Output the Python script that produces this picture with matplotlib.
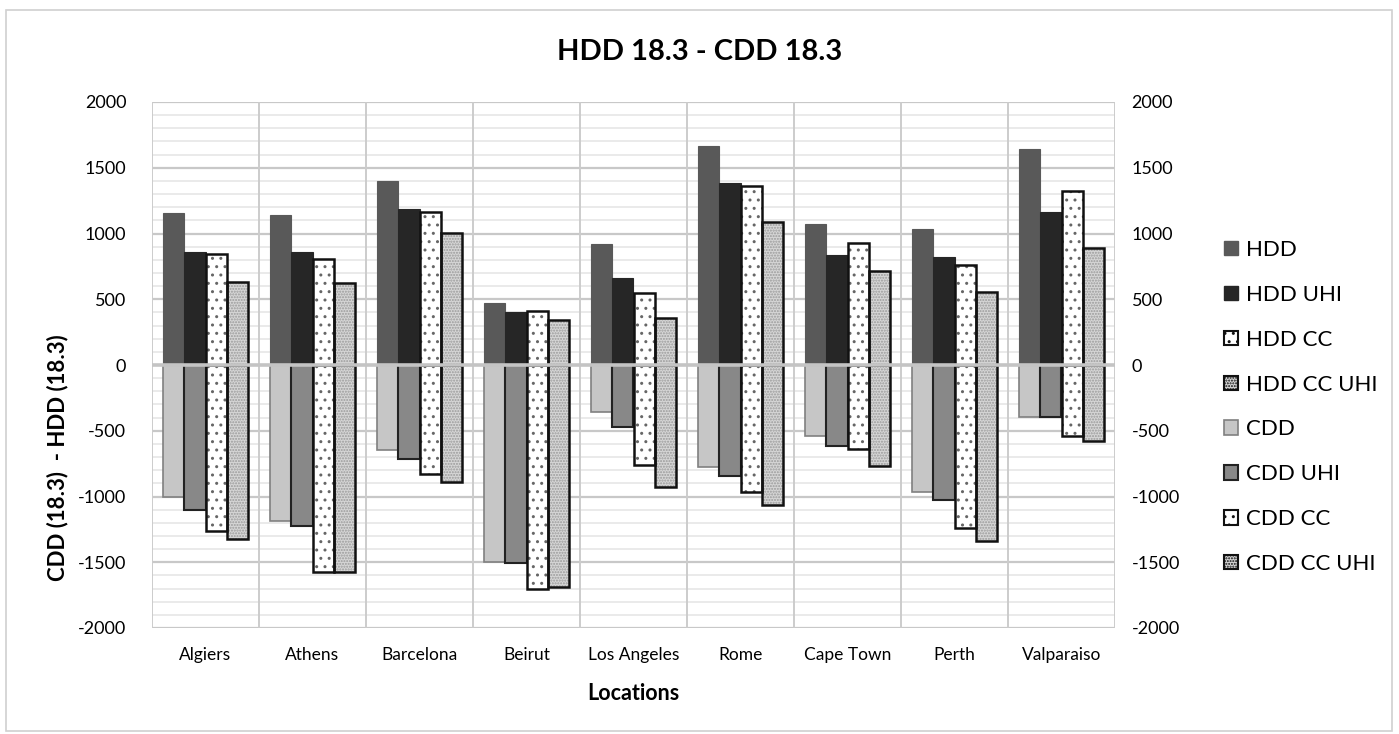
import matplotlib
matplotlib.use("Agg")
import matplotlib.pyplot as plt
from matplotlib.patches import Rectangle, Patch
import numpy as np

plt.rcParams['font.family'] = ['Lato', 'DejaVu Sans']

locations = ["Algiers", "Athens", "Barcelona", "Beirut", "Los Angeles",
             "Rome", "Cape Town", "Perth", "Valparaiso"]

hdd        = [1158, 1138, 1402, 474, 920, 1665, 1070, 1037, 1643]
hdd_uhi    = [857, 857, 1184, 400, 664, 1382, 834, 819, 1166]
hdd_cc     = [842, 804, 1166, 411, 550, 1364, 930, 758, 1321]
hdd_cc_uhi = [634, 621, 1006, 342, 360, 1090, 717, 553, 887]

cdd        = [-1001, -1184, -646, -1496, -355, -773, -537, -966, -393]
cdd_uhi    = [-1103, -1222, -717, -1503, -469, -842, -616, -1029, -395]
cdd_cc     = [-1260, -1574, -831, -1706, -760, -968, -636, -1240, -543]
cdd_cc_uhi = [-1326, -1574, -892, -1686, -925, -1067, -765, -1341, -575]

yticks = [-2000, -1500, -1000, -500, 0, 500, 1000, 1500, 2000]

W, H = 1399, 734
fig = plt.figure(figsize=(W / 100, H / 100), dpi=100)
fig.patch.set_facecolor("white")
fig.add_artist(Rectangle((6 / W, 1 - 731 / H), (1392 - 6) / W, (731 - 10) / H,
                         transform=fig.transFigure, fill=False,
                         edgecolor="#d0d0d0", linewidth=1.2))

ax = fig.add_axes([152 / W, 1 - 628 / H, 963 / W, 526 / H])
ax.set_xlim(-0.5, len(locations) - 0.5)
ax.set_ylim(-2000, 2000)

# grid
for v in range(-2000, 2001, 100):
    if v == 0:
        continue
    if v % 500 == 0:
        ax.axhline(v, color="#c8c8c8", lw=1.6, zorder=0.5)
    else:
        ax.axhline(v, color="#e6e6e6", lw=1.2, zorder=0.4)
for b in np.arange(-0.5, len(locations), 1.0):
    ax.axvline(b, color="#cccccc", lw=1.4, zorder=0.5)

x = np.arange(len(locations))
w = 0.2
offs = [-0.3, -0.1, 0.1, 0.3]

def solid(vals, off, face, edge, lw, label):
    ax.bar(x + off, vals, w, color=face, edgecolor=edge, linewidth=lw, zorder=2, label=label)

def dotted(vals, off, face, hatch, hatchcol, label):
    ax.bar(x + off, vals, w, color=face, edgecolor=hatchcol, hatch=hatch, linewidth=0, zorder=2)
    ax.bar(x + off, vals, w, fill=False, edgecolor="#111111", linewidth=1.8, zorder=3)

solid(hdd, offs[0], "#595959", "#595959", 0.8, "HDD")
solid(hdd_uhi, offs[1], "#262626", "#262626", 0.8, "HDD UHI")
dotted(hdd_cc, offs[2], "white", "..", "#666666", "HDD CC")
dotted(hdd_cc_uhi, offs[3], "#d6d6d6", "......", "#9a9a9a", "HDD CC UHI")
solid(cdd, offs[0], "#c6c6c6", "#808080", 1.2, "CDD")
solid(cdd_uhi, offs[1], "#888888", "#222222", 1.5, "CDD UHI")
dotted(cdd_cc, offs[2], "white", "..", "#666666", "CDD CC")
dotted(cdd_cc_uhi, offs[3], "#d6d6d6", "......", "#9a9a9a", "CDD CC UHI")

# horizontal axis line drawn on top of the bars
ax.axhline(0, color="#c4c4c4", lw=2.6, zorder=5)

ax.set_xticks(x)
ax.set_xticklabels(locations, fontsize=12.5)
ax.set_yticks(yticks)
ax.set_yticklabels([str(t) for t in yticks], fontsize=13)
ax.tick_params(axis='x', length=0, pad=14)
ax.tick_params(axis='y', length=0, pad=18.5)
for s in ax.spines.values():
    s.set_visible(False)

ax2 = ax.twinx()
ax2.set_ylim(-2000, 2000)
ax2.set_yticks(yticks)
ax2.set_yticklabels([str(t) for t in yticks], fontsize=13)
ax2.tick_params(length=0, pad=12)
for s in ax2.spines.values():
    s.set_visible(False)

fig.text(700 / W, 1 - 52 / H, "HDD 18.3 - CDD 18.3", ha="center", va="center",
         fontsize=21, fontweight="bold")
fig.text(58 / W, 1 - 458 / H, "CDD (18.3)  - HDD (18.3)", ha="center", va="center",
         rotation=90, fontsize=16, fontweight="bold")
fig.text(633 / W, 1 - 694 / H, "Locations", ha="center", va="center",
         fontsize=15.5, fontweight="bold")

# legend
handles = [
    Patch(facecolor="#595959", edgecolor="#595959"),
    Patch(facecolor="#262626", edgecolor="#262626"),
    Patch(facecolor="white", edgecolor="#111111", hatch="..", linewidth=1.5),
    Patch(facecolor="#d6d6d6", edgecolor="#111111", hatch="......", linewidth=1.5),
    Patch(facecolor="#c6c6c6", edgecolor="#808080", linewidth=1.2),
    Patch(facecolor="#888888", edgecolor="#222222", linewidth=1.5),
    Patch(facecolor="white", edgecolor="#111111", hatch="..", linewidth=1.5),
    Patch(facecolor="#d6d6d6", edgecolor="#111111", hatch="......", linewidth=1.5),
]
labels = ["HDD", "HDD UHI", "HDD CC", "HDD CC UHI", "CDD", "CDD UHI", "CDD CC", "CDD CC UHI"]
leg = fig.legend(handles, labels, loc="center left",
                 bbox_to_anchor=(1213 / W, 1 - 407 / H), frameon=False,
                 fontsize=16, handlelength=0.62, handleheight=0.62,
                 handletextpad=0.36, labelspacing=1.12, borderpad=0)

fig.savefig("out.png", dpi=100)
